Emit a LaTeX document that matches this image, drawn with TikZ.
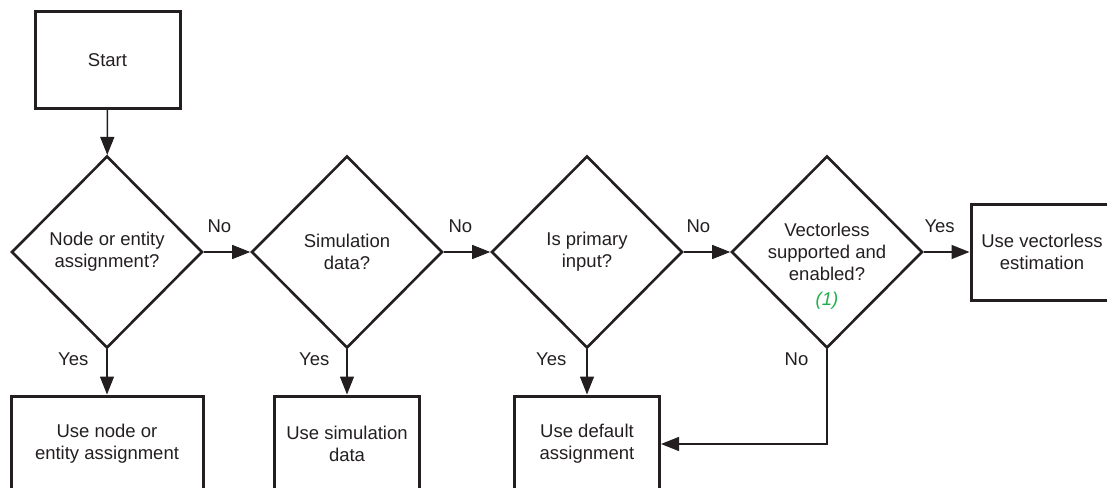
\documentclass[tikz,border=0pt]{standalone}
\usepackage{fontspec}
\setmainfont{Liberation Sans}
\usetikzlibrary{shapes.geometric,arrows.meta}
\definecolor{ink}{HTML}{231F20}
\definecolor{notegreen}{HTML}{1DB04B}
\begin{document}
\begin{tikzpicture}[x=1pt,y=-1pt,ink,
    font=\fontsize{18.5}{22}\selectfont,
    box/.style={draw,line width=3pt,minimum width=145pt,minimum height=96pt,inner sep=0pt,align=center},
    test/.style={draw,diamond,line width=2.6pt,minimum width=191pt,minimum height=192pt,inner sep=0pt},
    txt/.style={align=center,inner sep=0pt},
    arr/.style={line width=1.4pt,-{Triangle[length=18pt,width=14pt]}},
    lbl/.style={inner sep=0pt}]
  \useasboundingbox (0,0) rectangle (1107,487);
  \node[box] (start) at (107.5,60) {Start};
  \node[test] (d1) at (107,252) {};
  \node[test] (d2) at (347,252) {};
  \node[test] (d3) at (587,252) {};
  \node[test] (d4) at (827,252) {};
  \node[txt] (t1) at (d1) {Node or entity\\assignment?};
  \node[txt] (t2) at (d2) {Simulation\\data?};
  \node[txt] (t3) at (d3) {Is primary\\input?};
  \node[txt] (t4) at (d4) {Vectorless\\supported and\\enabled?};
  \node[lbl,text=notegreen,font=\fontsize{18.5}{22}\selectfont\itshape] (n1) at (827,301) {(1)};
  \node[box,minimum width=192pt] (b1) at (107,444) {Use node or\\entity assignment};
  \node[box] (b2) at (347,444) {Use simulation\\data};
  \node[box] (b3) at (587,444) {Use default\\assignment};
  \node[box,minimum width=142pt] (b5) at (1042,252) {Use vectorless\\estimation};
  \coordinate (back) at (d4.south |- b3.east);
  \draw[arr] (start) -- (d1);
  \draw[arr] (d1.east) -- node[lbl,pos=0,anchor=south west,xshift=3pt,yshift=19pt]{No} (d2.west);
  \draw[arr] (d2.east) -- node[lbl,pos=0,anchor=south west,xshift=4pt,yshift=19pt]{No} (d3.west);
  \draw[arr] (d3.east) -- node[lbl,pos=0,anchor=south west,xshift=2pt,yshift=19pt]{No} (d4.west);
  \draw[arr] (d4.east) -- node[lbl,pos=0,anchor=south west,xshift=0pt,yshift=19pt]{Yes} (b5.west);
  \draw[arr] (d1.south) -- node[lbl,pos=0.22,anchor=east,xshift=-18pt]{Yes} (b1.north);
  \draw[arr] (d2.south) -- node[lbl,pos=0.22,anchor=east,xshift=-17pt]{Yes} (b2.north);
  \draw[arr] (d3.south) -- node[lbl,pos=0.22,anchor=east,xshift=-20pt]{Yes} (b3.north);
  \draw[arr] (d4.south) -- node[lbl,pos=0.11,anchor=east,xshift=-18pt]{No} (back) -- (b3.east);
\end{tikzpicture}
\end{document}
